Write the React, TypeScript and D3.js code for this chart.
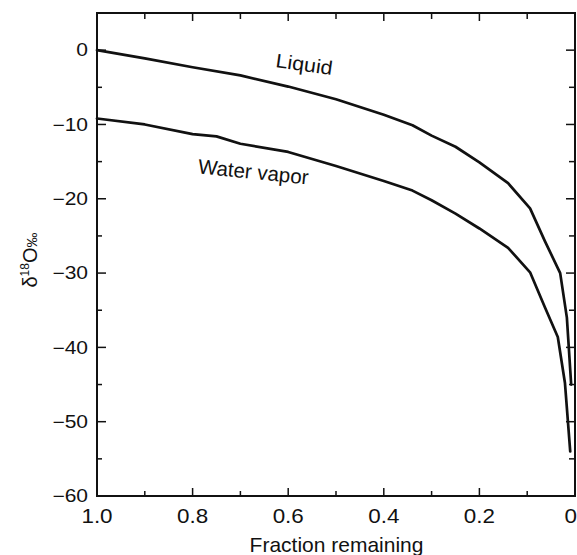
import React from "react";
import * as d3 from "d3";

const liquidF = [1.0, 0.9, 0.8, 0.7, 0.6, 0.5, 0.4, 0.34, 0.3, 0.25, 0.2, 0.14, 0.094, 0.063, 0.031, 0.017, 0.008];
const liquidD = [0, -1.1, -2.3, -3.4, -4.9, -6.6, -8.7, -10.1, -11.5, -13.0, -15.1, -17.9, -21.3, -25.7, -30.0, -36.0, -45.0];

const vaporF = [1.0, 0.9, 0.8, 0.75, 0.7, 0.6, 0.5, 0.4, 0.34, 0.3, 0.25, 0.2, 0.14, 0.094, 0.063, 0.036, 0.021, 0.01];
const vaporD = [-9.2, -10.0, -11.3, -11.6, -12.6, -13.7, -15.6, -17.6, -18.9, -20.2, -22.0, -24.0, -26.6, -29.9, -34.6, -38.6, -44.8, -54.0];

const xMajor = [1.0, 0.8, 0.6, 0.4, 0.2, 0];
const xMajorLabels = ["1.0", "0.8", "0.6", "0.4", "0.2", "0"];
const xMinor = [0.9, 0.7, 0.5, 0.3, 0.1];
const yMajor = [0, -10, -20, -30, -40, -50, -60];
const yMajorLabels = ["0", "\u221210", "\u221220", "\u221230", "\u221240", "\u221250", "\u221260"];
const yMinor = [-5, -15, -25, -35, -45, -55];

export default function App() {
  const W = 577, H = 555;
  const x = d3.scaleLinear().domain([1, 0]).range([97, 575]);
  const y = d3.scaleLinear().domain([-60, 5]).range([496, 13]);
  const line = d3
    .line<[number, number]>()
    .x((d) => x(d[0]))
    .y((d) => y(d[1]))
    .curve(d3.curveLinear);
  const liq = liquidF.map((f, i) => [f, liquidD[i]] as [number, number]);
  const vap = vaporF.map((f, i) => [f, vaporD[i]] as [number, number]);
  const [x0, x1] = x.range();
  const [y0, y1] = y.range();
  const font = "'Liberation Sans', Arial, Helvetica, sans-serif";
  const sx = 1.15;

  return (
    <svg
      width={W}
      height={H}
      viewBox={`0 0 ${W} ${H}`}
      style={{ position: "fixed", left: 0, top: 0, background: "#fff" }}
      fontFamily={font}
    >
      <rect x={0} y={0} width={W} height={H} fill="#fff" />
      {/* ticks */}
      <g stroke="#111" strokeWidth={1.5}>
        {xMajor.map((v) => (
          <line key={"bM" + v} x1={x(v)} x2={x(v)} y1={y0} y2={y0 - 8} />
        ))}
        {xMinor.map((v) => (
          <line key={"bm" + v} x1={x(v)} x2={x(v)} y1={y0} y2={y0 - 5} />
        ))}
        {xMajor.map((v) => (
          <line key={"tM" + v} x1={x(v)} x2={x(v)} y1={y1} y2={y1 + 8} />
        ))}
        {xMinor.map((v) => (
          <line key={"tm" + v} x1={x(v)} x2={x(v)} y1={y1} y2={y1 + 6} />
        ))}
        {yMajor.map((v) => (
          <line key={"lM" + v} x1={x0} x2={x0 + 9} y1={y(v)} y2={y(v)} />
        ))}
        {yMinor.map((v) => (
          <line key={"lm" + v} x1={x0} x2={x0 + 5} y1={y(v)} y2={y(v)} />
        ))}
        {yMajor.map((v) => (
          <line key={"rM" + v} x1={x1} x2={x1 - 9} y1={y(v)} y2={y(v)} />
        ))}
        {yMinor.map((v) => (
          <line key={"rm" + v} x1={x1} x2={x1 - 6} y1={y(v)} y2={y(v)} />
        ))}
      </g>
      {/* frame */}
      <rect x={x0} y={y1} width={x1 - x0} height={y0 - y1} fill="none" stroke="#111" strokeWidth={2} />
      {/* curves */}
      <path d={line(liq) || ""} fill="none" stroke="#111" strokeWidth={2.7} strokeLinejoin="round" strokeLinecap="round" />
      <path d={line(vap) || ""} fill="none" stroke="#111" strokeWidth={2.7} strokeLinejoin="round" strokeLinecap="round" />
      {/* x tick labels */}
      {xMajor.map((v, i) => {
        const last = i === xMajor.length - 1;
        return (
          <text
            key={"xl" + v}
            transform={`translate(${last ? 577 : x(v)},${523}) scale(${sx},1)`}
            textAnchor={last ? "end" : "middle"}
            fontSize={19.5}
            fill="#111"
          >
            {xMajorLabels[i]}
          </text>
        );
      })}
      {/* y tick labels */}
      {yMajor.map((v, i) => (
        <text
          key={"yl" + v}
          transform={`translate(${88},${y(v) + 6.2}) scale(1.2,1)`}
          textAnchor="end"
          fontSize={17.5}
          fill="#111"
        >
          {yMajorLabels[i]}
        </text>
      ))}
      {/* axis titles */}
      <text transform={`translate(336.5,551.5) scale(1.05,1)`} textAnchor="middle" fontSize={20} fill="#111">
        Fraction remaining
      </text>
      <text transform={`translate(37,260) rotate(-90)`} textAnchor="middle" fontSize={20} fill="#111">
        <tspan>δ</tspan>
        <tspan fontSize={12} dy={-8}>18</tspan>
        <tspan dy={8}>O</tspan>
        <tspan fontSize={15}>‰</tspan>
      </text>
      {/* curve labels */}
      <text transform={`translate(275,67) rotate(8) scale(1.1,1)`} fontSize={19.5} fill="#111">
        Liquid
      </text>
      <text transform={`translate(197.5,173.3) rotate(5.8)`} fontSize={20.5} fill="#111">
        Water vapor
      </text>
    </svg>
  );
}
